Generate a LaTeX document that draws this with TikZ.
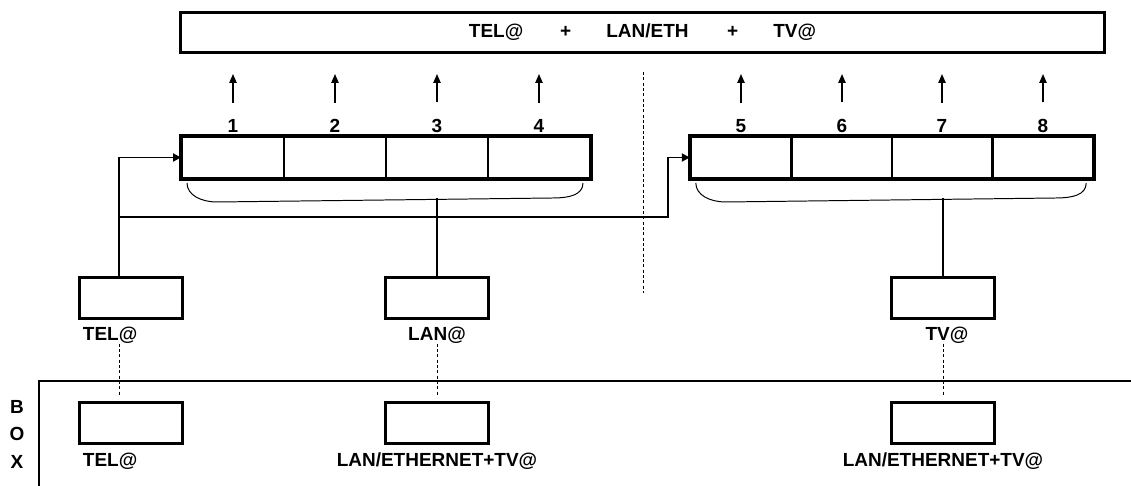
\documentclass[tikz,border=0pt]{standalone}
\usepackage{fontspec}
\setmainfont{Liberation Sans}
\usetikzlibrary{arrows.meta,positioning,calc}

\tikzset{
    bus/.style={draw, line width=2.1pt, minimum width=23.075cm, minimum height=1cm, inner sep=0pt},
    cell/.style={draw, line width=1.4pt, minimum height=1.025cm, inner sep=0pt},
    unit/.style={draw, line width=2.2pt, minimum width=2.58cm, minimum height=1.03cm, inner sep=0pt},
    lbl/.style={inner sep=0pt},
    link/.style={line width=1.4pt},
    up/.style={line width=1pt, -{Triangle[length=0.22cm,width=0.18cm]}},
    feed/.style={line width=1.4pt, -{Triangle[length=0.2cm,width=0.2cm]}},
    brace/.style={line width=0.7pt},
    tie/.style={line width=0.7pt, dash pattern=on 2.2pt off 1.6pt},
}

\begin{document}
\begin{tikzpicture}[x=0.025cm, y=-0.025cm, font=\fontsize{13.5}{16}\selectfont\bfseries]
    \useasboundingbox (0,0) rectangle (1131,486);

    % Shared line on top
    \node[bus] (bus) at (642.5,32.5) {TEL@\hspace{0.92cm}+\hspace{0.88cm}LAN/ETH\hspace{0.96cm}+\hspace{0.88cm}TV@};

    % Time slots 1-8
    \foreach \i/\x in {1/233,2/335,3/437,4/539}
        \node[cell, minimum width=2.55cm] (cell\i) at (\x,157.5) {};
    \foreach \i/\x in {5/741,6/842,7/942,8/1043}
        \node[cell, minimum width=2.51cm] (cell\i) at (\x,157.5) {};
    \draw[line width=2.2pt] (cell1.north west) rectangle (cell4.south east);
    \draw[line width=2.2pt] (cell5.north west) rectangle (cell8.south east);

    \foreach \i in {1,...,8} {
        \node[lbl, above=0.07cm of cell\i.north] (num\i) {\i};
        \draw[up, shorten <=0.42cm, shorten >=0.5cm] (num\i) -- (num\i |- bus.south);
    }

    % Braces under the slots
    \draw[brace] ($(cell1.south west)+(6,4)$) .. controls +(0,12) and +(-16,0) .. ++(30,19)
        -- ($(cell4.south east)+(-38,19)$) .. controls +(16,0) and +(0,12) .. ($(cell4.south east)+(-8,4)$);
    \draw[brace] ($(cell5.south west)+(6,4)$) .. controls +(0,12) and +(-16,0) .. ++(30,19)
        -- ($(cell8.south east)+(-38,19)$) .. controls +(16,0) and +(0,12) .. ($(cell8.south east)+(-8,4)$);
    \coordinate (lbrace) at ($(cell1.south west)+(0,19)$);
    \coordinate (rbrace) at ($(cell5.south west)+(0,19)$);

    % Middle split
    \draw[tie] (643,72) -- (643,293);

    % Units
    \node[unit] (tel) at (131,298) {};
    \node[unit] (lan) at (437,298) {};
    \node[unit] (tv) at (943,298) {};
    \node[lbl, below right=0.16cm and 0.12cm of tel.south west] (tellbl) {TEL@};
    \node[lbl, below=0.16cm of lan] (lanlbl) {LAN@};
    \node[lbl, below=0.16cm of tv, xshift=0.1cm] (tvlbl) {TV@};

    % Connections
    \coordinate (tap) at (119,217);
    \coordinate (jog) at (668,217);
    \draw[feed] ([xshift=-0.3cm]tel.north) |- (cell1.west);
    \draw[feed] (tap) -- (jog) |- (cell5.west);
    \draw[link] (lan.north) -- (lan.north |- lbrace);
    \draw[link] (tv.north) -- (tv.north |- rbrace);

    % BOX
    \draw[link] (1131,381) -- (39,381) -- (39,486);
    \foreach \l/\y in {B/407,O/434,X/462}
        \node[lbl] (side\l) at (17,\y) {\l};

    \node[unit] (telbox) at (131,423) {};
    \node[unit] (lanbox) at (437,423) {};
    \node[unit] (tvbox) at (943,423) {};
    \node[lbl, below right=0.18cm and 0.12cm of telbox.south west] (telboxlbl) {TEL@};
    \node[lbl, below=0.18cm of lanbox] (lanboxlbl) {LAN/ETHERNET+TV@};
    \node[lbl, below=0.18cm of tvbox] (tvboxlbl) {LAN/ETHERNET+TV@};

    \draw[tie, shorten >=0.15cm] ([xshift=-0.3cm]tel.south |- tellbl.south) -- ([xshift=-0.3cm]telbox.north);
    \draw[tie, shorten >=0.15cm] (lanlbl.south) -- (lanbox.north);
    \draw[tie, shorten >=0.15cm] (tv.south |- tvlbl.south) -- (tvbox.north);
\end{tikzpicture}
\end{document}
